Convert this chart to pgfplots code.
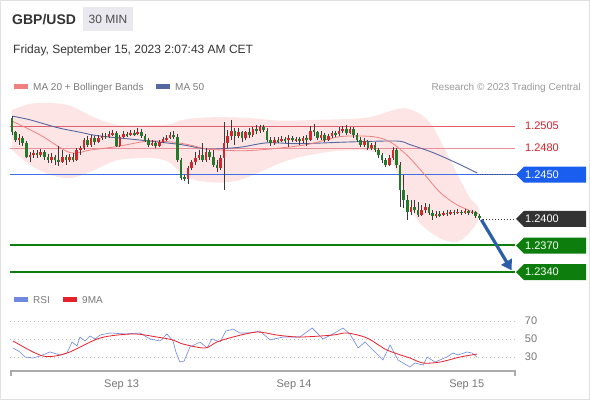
\documentclass[border=0pt]{standalone}
\usepackage{fontspec}
\setmainfont{Liberation Sans}
\usepackage{pgfplots}
\pgfplotsset{compat=1.18}
\usepackage{pgfplotstable}
\usetikzlibrary{arrows.meta}
\definecolor{titlec}{HTML}{333333}
\definecolor{legtext}{HTML}{7A7A7A}
\definecolor{rescol}{HTML}{9A9A9A}
\definecolor{lvlred}{HTML}{E2606C}
\definecolor{lvltext}{HTML}{D8202A}
\definecolor{bandc}{HTML}{FDE5E5}
\definecolor{ma20c}{HTML}{F08080}
\definecolor{ma50c}{HTML}{5566A0}
\definecolor{bluebox}{HTML}{1A5EF0}
\definecolor{blueline}{HTML}{3A6FE8}
\definecolor{greenc}{HTML}{0D7D0D}
\definecolor{darkbox}{HTML}{333333}
\definecolor{wickc}{HTML}{3A3A3A}
\definecolor{cgreen}{HTML}{237A2A}
\definecolor{cred}{HTML}{D0282C}
\definecolor{rsic}{HTML}{7088E0}
\definecolor{ma9c}{HTML}{E8202A}
\definecolor{gridc}{HTML}{C0C0C0}
\definecolor{axisc}{HTML}{ABABAB}
\definecolor{tickc}{HTML}{777777}
\definecolor{arrowc}{HTML}{2A5FA8}
\definecolor{boxgray}{HTML}{E9E9EF}
\newcommand\fs[1]{\fontsize{#1}{#1}\selectfont}

\pgfplotstableread{
i o h l c
0 1.2514 1.2516 1.2495 1.2498
1 1.2498 1.2500 1.2487 1.2489
3 1.2491 1.2494 1.2482 1.2486
4 1.2486 1.2488 1.2469 1.2470
7 1.2475 1.2478 1.2469 1.2472
9 1.2476 1.2478 1.2467 1.2470
10 1.2470 1.2473 1.2463 1.2467
12 1.2470 1.2472 1.2461 1.2467
13 1.2467 1.2482 1.2460 1.2464
15 1.2470 1.2472 1.2461 1.2467
17 1.2470 1.2475 1.2464 1.2467
21 1.2489 1.2494 1.2481 1.2484
23 1.2491 1.2494 1.2484 1.2487
26 1.2494 1.2497 1.2490 1.2493
29 1.2497 1.2499 1.2481 1.2482
32 1.2496 1.2498 1.2493 1.2495
34 1.2497 1.2500 1.2494 1.2496
36 1.2498 1.2502 1.2491 1.2494
37 1.2494 1.2496 1.2487 1.2489
38 1.2489 1.2491 1.2481 1.2484
40 1.2486 1.2488 1.2480 1.2482
45 1.2495 1.2499 1.2490 1.2493
46 1.2493 1.2496 1.2464 1.2467
47 1.2467 1.2469 1.2444 1.2446
48 1.2447 1.2450 1.2443 1.2445
53 1.2472 1.2486 1.2464 1.2467
55 1.2476 1.2478 1.2467 1.2470
56 1.2470 1.2478 1.2459 1.2461
57 1.2461 1.2467 1.2453 1.2458
62 1.2499 1.2503 1.2484 1.2494
64 1.2498 1.2500 1.2487 1.2491
66 1.2498 1.2503 1.2491 1.2495
68 1.2502 1.2506 1.2496 1.2499
70 1.2504 1.2506 1.2498 1.2500
71 1.2500 1.2503 1.2487 1.2489
72 1.2489 1.2493 1.2482 1.2486
74 1.2489 1.2493 1.2486 1.2488
76 1.2490 1.2493 1.2486 1.2489
78 1.2491 1.2494 1.2487 1.2489
80 1.2490 1.2493 1.2484 1.2488
82 1.2491 1.2495 1.2482 1.2489
84 1.2500 1.2507 1.2494 1.2498
85 1.2498 1.2500 1.2489 1.2491
87 1.2495 1.2497 1.2487 1.2489
90 1.2497 1.2499 1.2493 1.2496
93 1.2502 1.2506 1.2495 1.2497
95 1.2502 1.2504 1.2491 1.2495
96 1.2495 1.2497 1.2487 1.2489
97 1.2489 1.2493 1.2481 1.2484
99 1.2488 1.2489 1.2478 1.2480
101 1.2484 1.2487 1.2476 1.2478
102 1.2478 1.2480 1.2469 1.2472
103 1.2472 1.2475 1.2463 1.2467
104 1.2467 1.2469 1.2459 1.2461
107 1.2478 1.2480 1.2458 1.2461
108 1.2461 1.2464 1.2414 1.2433
109 1.2433 1.2450 1.2412 1.2421
110 1.2421 1.2427 1.2399 1.2408
112 1.2414 1.2421 1.2407 1.2410
113 1.2410 1.2419 1.2402 1.2404
116 1.2414 1.2417 1.2404 1.2407
117 1.2407 1.2410 1.2399 1.2403
119 1.2406 1.2409 1.2402 1.2404
121 1.2407 1.2410 1.2403 1.2406
123 1.2408 1.2410 1.2404 1.2407
125 1.2408 1.2410 1.2404 1.2407
127 1.2409 1.2410 1.2404 1.2407
129 1.2408 1.2409 1.2401 1.2403
130 1.2403 1.2406 1.2399 1.2401
}\dn

\pgfplotstableread{
i o h l c
2 1.2489 1.2496 1.2484 1.2491
5 1.2470 1.2476 1.2464 1.2472
6 1.2472 1.2478 1.2469 1.2475
8 1.2472 1.2479 1.2470 1.2476
11 1.2467 1.2475 1.2463 1.2470
14 1.2464 1.2478 1.2463 1.2470
16 1.2467 1.2473 1.2464 1.2470
18 1.2467 1.2480 1.2466 1.2478
19 1.2478 1.2482 1.2472 1.2480
20 1.2480 1.2491 1.2478 1.2489
22 1.2484 1.2495 1.2481 1.2491
24 1.2487 1.2495 1.2486 1.2491
25 1.2491 1.2497 1.2489 1.2494
27 1.2493 1.2499 1.2491 1.2496
28 1.2496 1.2500 1.2494 1.2497
30 1.2482 1.2495 1.2481 1.2493
31 1.2493 1.2499 1.2491 1.2496
33 1.2495 1.2500 1.2494 1.2497
35 1.2496 1.2503 1.2495 1.2498
39 1.2484 1.2489 1.2482 1.2486
41 1.2482 1.2489 1.2481 1.2487
42 1.2487 1.2493 1.2486 1.2490
43 1.2490 1.2495 1.2488 1.2491
44 1.2491 1.2498 1.2490 1.2495
49 1.2445 1.2460 1.2439 1.2458
50 1.2458 1.2467 1.2455 1.2464
51 1.2464 1.2476 1.2461 1.2469
52 1.2469 1.2478 1.2467 1.2472
54 1.2467 1.2480 1.2464 1.2476
58 1.2458 1.2472 1.2455 1.2469
59 1.2469 1.2510 1.2433 1.2486
60 1.2486 1.2500 1.2480 1.2494
61 1.2494 1.2512 1.2489 1.2499
63 1.2494 1.2503 1.2491 1.2498
65 1.2491 1.2500 1.2489 1.2498
67 1.2495 1.2504 1.2493 1.2502
69 1.2499 1.2506 1.2497 1.2504
73 1.2486 1.2493 1.2484 1.2489
75 1.2488 1.2494 1.2487 1.2490
77 1.2489 1.2495 1.2481 1.2491
79 1.2489 1.2493 1.2487 1.2490
81 1.2488 1.2494 1.2486 1.2491
83 1.2489 1.2505 1.2488 1.2500
86 1.2491 1.2499 1.2489 1.2495
88 1.2489 1.2496 1.2488 1.2494
89 1.2494 1.2499 1.2491 1.2497
91 1.2496 1.2504 1.2494 1.2499
92 1.2499 1.2505 1.2497 1.2502
94 1.2497 1.2504 1.2496 1.2502
98 1.2484 1.2491 1.2481 1.2488
100 1.2480 1.2486 1.2478 1.2484
105 1.2461 1.2472 1.2460 1.2469
106 1.2469 1.2481 1.2467 1.2478
111 1.2408 1.2421 1.2404 1.2414
114 1.2404 1.2416 1.2403 1.2410
115 1.2410 1.2418 1.2407 1.2414
118 1.2403 1.2409 1.2401 1.2406
120 1.2404 1.2409 1.2403 1.2407
122 1.2406 1.2410 1.2404 1.2408
124 1.2407 1.2411 1.2406 1.2408
126 1.2407 1.2411 1.2406 1.2409
128 1.2407 1.2410 1.2406 1.2408
}\up

\newcommand\lbox[5]{%
  \fill[#4] (516pt,-#1pt) -- (524pt,-#2pt) -- (586pt,-#2pt) -- (586pt,-#3pt) -- (524pt,-#3pt) -- cycle;
  \node[text=white, font=\fs{11}, inner sep=0pt, anchor=center] at (542pt,-#1pt) {#5};}

\begin{document}
\begin{tikzpicture}
\path[fill=white] (0,0) rectangle (590pt,-400pt);
\draw[black!12] (0.5pt,-0.5pt) rectangle (589.5pt,-399.5pt);

% header
\node[anchor=base west, inner sep=0pt, text=titlec, font=\fs{14}\bfseries] at (12pt,-24pt) {GBP/USD};
\fill[boxgray] (83pt,-7pt) rectangle (133pt,-31pt);
\node[anchor=base, inner sep=0pt, text=black!70, font=\fs{12}] at (108pt,-23.5pt) {30 MIN};
\node[anchor=base west, inner sep=0pt, text=titlec, font=\fs{12}] at (13pt,-53pt) {Friday, September 15, 2023 2:07:43 AM CET};

% legend
\fill[ma20c] (14pt,-84pt) rectangle (28pt,-88.5pt);
\node[anchor=base west, inner sep=0pt, text=legtext, font=\fs{10}] at (33pt,-90pt) {MA 20 + Bollinger Bands};
\fill[ma50c] (156pt,-84pt) rectangle (170pt,-88.5pt);
\node[anchor=base west, inner sep=0pt, text=legtext, font=\fs{10}] at (175pt,-90pt) {MA 50};
\node[anchor=base east, inner sep=0pt, text=rescol, font=\fs{10}] at (581pt,-90pt) {Research © 2023 Trading Central};

\begin{axis}[at={(10pt,-285pt)}, anchor=south west, width=505pt, height=185pt,
  scale only axis, hide axis, clip=false,
  xmin=-0.556, xmax=139.95, ymin=1.232533, ymax=1.253438]
% Bollinger band
\addplot[fill=bandc, draw=none, smooth, tension=0.5] coordinates {
(0,1.2523) (5,1.2530) (10.6,1.2531) (16.1,1.2528) (21.7,1.2517) (25.9,1.2510) (30,1.2506) (38.4,1.2506) (44,1.2507) (46.7,1.2511) (50.9,1.2514) (57.9,1.2515) (66.2,1.2514) (74.6,1.2511) (85.7,1.2512) (94,1.2513) (99.6,1.2515) (103.8,1.2520) (108,1.2525) (110.7,1.2524) (114.1,1.2517) (117.1,1.2504) (121,1.2474) (124.7,1.2444) (127.4,1.2424) (129.7,1.2413)
(129.7,1.2399) (127.4,1.2385) (123.8,1.2374) (119.1,1.2378) (113.5,1.2395) (110.7,1.2416) (108,1.2444) (105.2,1.2469) (102.4,1.2474) (96.8,1.2478) (88.5,1.2476) (80.1,1.2470) (74.6,1.2463) (69,1.2453) (63.4,1.2444) (57.9,1.2441) (50.9,1.2444) (46.7,1.2453) (43.4,1.2465) (38.4,1.2469) (30,1.2467) (25.9,1.2461) (21.7,1.2453) (16.1,1.2446) (10.6,1.2450) (5,1.2461) (0,1.2478)};
% levels
\addplot[lvlred, line width=0.8pt] coordinates {(-0.556,1.2505) (139.95,1.2505)};
\addplot[lvlred!70, line width=0.8pt] coordinates {(-0.556,1.2480) (139.95,1.2480)};
\addplot[blueline, line width=0.9pt] coordinates {(-0.556,1.2450) (139.95,1.2450)};
\addplot[greenc, line width=2pt] coordinates {(-0.556,1.2370) (139.95,1.2370)};
\addplot[greenc, line width=2pt] coordinates {(-0.556,1.2340) (139.95,1.2340)};
% moving averages
\addplot[ma50c, line width=0.9pt, smooth] coordinates {
(0.3,1.2516) (5,1.2512) (12.8,1.2503) (18.9,1.2498) (23.9,1.2494) (35.9,1.2489) (47,1.2484) (54.5,1.2479) (63.4,1.2481) (71,1.2486) (80.1,1.2485) (94,1.2487) (107.1,1.2488) (110.7,1.2484) (117.1,1.2475) (123.8,1.2463) (129.4,1.2452)};
\addplot[black!70, line width=0.7pt, dash pattern=on 1pt off 1.5pt] coordinates {(129.4,1.2450) (139.95,1.2450)};
\addplot[darkbox, line width=0.6pt, dash pattern=on 1pt off 2pt] coordinates {(131,1.2400) (139.95,1.2400)};
\addplot[ma20c, line width=0.8pt, smooth] coordinates {
(0.3,1.2510) (7.8,1.2495) (16.1,1.2475) (22,1.2478) (29.5,1.2482) (37.8,1.2488) (44.2,1.2487) (49,1.2484) (54.5,1.2479) (63.7,1.2477) (71.8,1.2479) (82.1,1.2484) (91.3,1.2493) (100.4,1.2493) (105.2,1.2487) (109.9,1.2472) (114.4,1.2452) (119.1,1.2430) (123.8,1.2416) (128.3,1.2408) (129.7,1.2406)};
% candles: wicks
\addplot[draw=none, mark=none, error bars/.cd, y dir=both, y explicit, error mark=none,
  error bar style={draw=wickc, line width=0.7pt}]
  table[x=i, y expr=(\thisrow{h}+\thisrow{l})/2, y error expr=(\thisrow{h}-\thisrow{l})/2] {\dn};
\addplot[draw=none, mark=none, error bars/.cd, y dir=both, y explicit, error mark=none,
  error bar style={draw=wickc, line width=0.7pt}]
  table[x=i, y expr=(\thisrow{h}+\thisrow{l})/2, y error expr=(\thisrow{h}-\thisrow{l})/2] {\up};
% candles: bodies
\addplot[draw=none, mark=none, error bars/.cd, y dir=both, y explicit, error mark=none,
  error bar style={draw=cgreen, line width=2.6pt}]
  table[x=i, y expr=(\thisrow{o}+\thisrow{c})/2, y error expr=abs(\thisrow{o}-\thisrow{c})/2] {\dn};
\addplot[draw=none, mark=none, error bars/.cd, y dir=both, y explicit, error mark=none,
  error bar style={draw=cred, line width=2.6pt}]
  table[x=i, y expr=(\thisrow{o}+\thisrow{c})/2, y error expr=abs(\thisrow{o}-\thisrow{c})/2] {\up};
% forecast arrow
\addplot[arrowc, line width=3.2pt, -{Triangle[length=10pt, width=12pt]}] coordinates {(130.6,1.2399) (139.0,1.2342)};
\end{axis}

% level labels
\node[text=lvltext, font=\fs{11}, inner sep=0pt, anchor=center] at (542pt,-126pt) {1.2505};
\node[text=lvltext, font=\fs{11}, inner sep=0pt, anchor=center] at (542pt,-148.1pt) {1.2480};
\lbox{174.7}{166.7}{182.7}{bluebox}{1.2450}
\lbox{218.9}{210.9}{226.9}{darkbox}{1.2400}
\lbox{245.5}{237.5}{253.5}{greenc}{1.2370}
\lbox{272}{264}{280}{greenc}{1.2340}

% RSI legend
\fill[rsic] (14pt,-297pt) rectangle (28pt,-301.5pt);
\node[anchor=base west, inner sep=0pt, text=legtext, font=\fs{10}] at (33pt,-303pt) {RSI};
\fill[ma9c] (63pt,-297pt) rectangle (77pt,-301.5pt);
\node[anchor=base west, inner sep=0pt, text=legtext, font=\fs{10}] at (82pt,-303pt) {9MA};

\begin{axis}[at={(10pt,-371pt)}, anchor=south west, width=505pt, height=61pt,
  scale only axis, hide axis, clip=false,
  xmin=-0.556, xmax=139.95, ymin=14.444, ymax=82.222]
\addplot[gridc, line width=0.8pt, dash pattern=on 0.8pt off 3.2pt] coordinates {(-0.556,70) (139.95,70)};
\addplot[gridc, line width=0.8pt, dash pattern=on 0.8pt off 3.2pt] coordinates {(-0.556,50) (139.95,50)};
\addplot[gridc, line width=0.8pt, dash pattern=on 0.8pt off 3.2pt] coordinates {(-0.556,30) (139.95,30)};
\addplot[rsic, line width=0.6pt] coordinates {
(0.3,40) (2.2,35.6) (3.6,30) (5.8,28.9) (7.8,31.1) (10.6,35.6) (13.4,32.2) (15.3,34.4) (16.7,46.7) (18.1,42.2) (18.9,52.2) (20.3,47.8) (21.7,53.3) (23.1,50) (24.5,54.4) (27.3,56.7) (31.4,55.6) (35.6,56.7) (38.4,50) (41.2,47.8) (43.1,55.6) (44.8,47.8) (45.6,35.6) (46.7,24.4) (47.9,25.6) (49.5,41.1) (52.3,46.7) (54.3,40) (55.6,50) (57.9,46.7) (59.5,58.9) (60.6,60) (61.5,61.1) (63.4,56.7) (66.2,56.7) (69,58.9) (71.8,48.9) (75.4,52.2) (80.1,52.2) (83.5,62.2) (84.9,56.7) (86.5,50) (89.3,55.6) (92.1,62.2) (94,55.6) (96.3,40) (98.2,46.7) (103.2,26.7) (105.2,43.3) (107.4,26.7) (110.7,18.9) (112.1,23.3) (114.4,21.1) (115.5,30) (117.7,24.4) (121,30) (122.7,34.4) (124.1,32.2) (126.6,35.6) (128,34.4) (129.4,30)};
\addplot[ma9c, line width=0.8pt, smooth] coordinates {
(0.3,47.8) (8.6,31.1) (15.3,34.4) (24.5,51.1) (33.7,55.6) (40.3,52.2) (44.8,48.9) (47.6,44.4) (53.7,40) (57,46.7) (61.5,52.2) (68.2,57.8) (73.7,54.4) (80.1,52.2) (89.3,54.4) (93.2,56.7) (98.8,51.1) (104.3,37.8) (110.7,28.9) (114.4,23.3) (119.1,24.4) (124.7,30) (129.4,33.3)};
\end{axis}
\node[text=tickc, font=\fs{11}, inner sep=0pt, anchor=center] at (531pt,-321pt) {70};
\node[text=tickc, font=\fs{11}, inner sep=0pt, anchor=center] at (531pt,-339pt) {50};
\node[text=tickc, font=\fs{11}, inner sep=0pt, anchor=center] at (531pt,-357pt) {30};

% time axis
\draw[axisc, line width=1.5pt] (11pt,-376pt) -- (11pt,-371pt) -- (515pt,-371pt) -- (515pt,-376pt);
\node[text=tickc, font=\fs{11}, inner sep=0pt, anchor=base] at (121.6pt,-387pt) {Sep 13};
\node[text=tickc, font=\fs{11}, inner sep=0pt, anchor=base] at (294pt,-387pt) {Sep 14};
\node[text=tickc, font=\fs{11}, inner sep=0pt, anchor=base] at (466.7pt,-387pt) {Sep 15};
\end{tikzpicture}
\end{document}
